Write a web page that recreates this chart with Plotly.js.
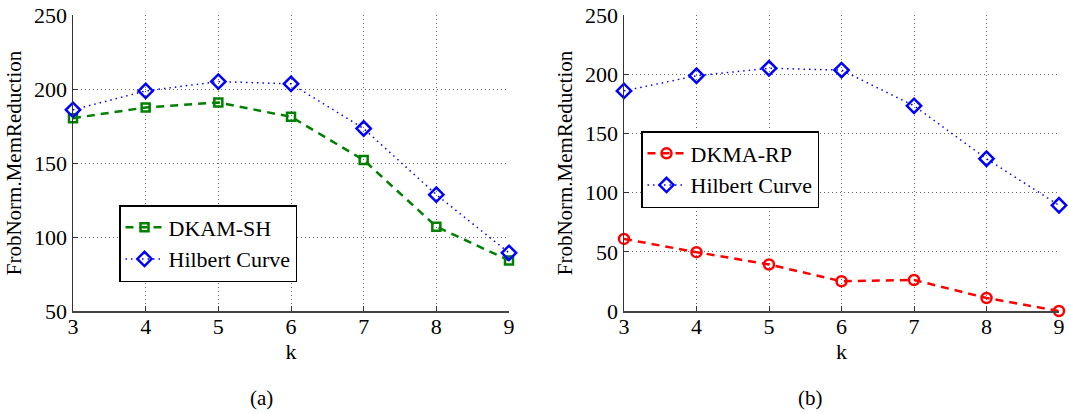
<!DOCTYPE html>
<html>
<head>
<meta charset="utf-8">
<script src="https://cdn.plot.ly/plotly-3.0.1.min.js"></script>
<style>
html,body{margin:0;padding:0;background:#fff;}
#chart{width:1069px;height:414px;}
</style>
</head>
<body>
<div id="chart"></div>
<script>
var kValues = [3, 4, 5, 6, 7, 8, 9];
var dkamSH = [180.3, 187.5, 190.9, 181.2, 152.0, 107.0, 84.2];
var hilbertCurve = [185.9, 198.7, 205.0, 203.5, 173.3, 128.6, 89.3];
var dkmaRP = [60.9, 49.7, 39.3, 25.1, 26.2, 11.0, 0.0];
var yTicksLeft = [50, 100, 150, 200, 250];
var yTicksRight = [0, 50, 100, 150, 200, 250];
var xTicks = [3, 4, 5, 6, 7, 8, 9];
var yTitle = 'FrobNorm.MemReduction';
var xTitle = 'k';
var panelLabels = ['(a)', '(b)'];

var FONT = 'Liberation Serif';

var traces = [
  {x: kValues, y: dkamSH, name: 'DKAM-SH', xaxis: 'x', yaxis: 'y', legend: 'legend', cliponaxis: false,
   mode: 'lines+markers', line: {color: '#008000', width: 2.5, dash: '8px,6px'},
   marker: {symbol: 'square-open', size: 8, color: '#008000', line: {width: 2.5, color: '#008000'}}},
  {x: kValues, y: hilbertCurve, name: 'Hilbert Curve', xaxis: 'x', yaxis: 'y', legend: 'legend', cliponaxis: false,
   mode: 'lines+markers', line: {color: '#0000ff', width: 1.5, dash: '1.5px,4px'},
   marker: {symbol: 'diamond-open', size: 11, color: '#0000ff', line: {width: 2.5, color: '#0000ff'}}},
  {x: kValues, y: dkmaRP, name: 'DKMA-RP', xaxis: 'x2', yaxis: 'y2', legend: 'legend2', cliponaxis: false,
   mode: 'lines+markers', line: {color: '#ff0000', width: 2.5, dash: '8px,6px'},
   marker: {symbol: 'circle-open', size: 10, color: '#ff0000', line: {width: 2.5, color: '#ff0000'}}},
  {x: kValues, y: hilbertCurve, name: 'Hilbert Curve', xaxis: 'x2', yaxis: 'y2', legend: 'legend2', cliponaxis: false,
   mode: 'lines+markers', line: {color: '#0000ff', width: 1.5, dash: '1.5px,4px'},
   marker: {symbol: 'diamond-open', size: 11, color: '#0000ff', line: {width: 2.5, color: '#0000ff'}}}
];

function xAxis(domain, anchor) {
  return {
    domain: domain, anchor: anchor, range: [3, 9], tickvals: xTicks,
    showline: true, linecolor: '#444', linewidth: 1.5,
    ticks: 'inside', ticklen: 5, tickcolor: '#333',
    showgrid: true, gridcolor: '#666', griddash: '1px,3px', gridwidth: 1,
    zeroline: false, automargin: false, ticklabelstandoff: -5,
    tickfont: {family: FONT, size: 22, color: '#000'},
    title: {text: xTitle, font: {family: FONT, size: 22, color: '#000'}, standoff: 0}
  };
}
function yAxis(domain, anchor, range, ticks) {
  return {
    domain: domain, anchor: anchor, range: range, tickvals: ticks,
    showline: true, linecolor: '#333', linewidth: 1.5,
    ticks: 'inside', ticklen: 5, tickcolor: '#333',
    showgrid: true, gridcolor: '#666', griddash: '1px,3px', gridwidth: 1,
    zeroline: false, automargin: false,
    tickfont: {family: FONT, size: 22, color: '#000'},
    title: {text: yTitle, font: {family: FONT, size: 21, color: '#000'}, standoff: 6}
  };
}

var yDom = [1 - 311 / 414, 1 - 15 / 414];
var layout = {
  width: 1069, height: 414,
  margin: {l: 0, r: 0, t: 0, b: 0},
  paper_bgcolor: '#fff', plot_bgcolor: '#fff',
  font: {family: FONT, color: '#000'},
  showlegend: true,
  xaxis: xAxis([73 / 1069, 509 / 1069], 'y'),
  yaxis: yAxis(yDom, 'x', [50, 250], yTicksLeft),
  xaxis2: xAxis([624 / 1069, 1059 / 1069], 'y2'),
  yaxis2: yAxis(yDom, 'x2', [0, 250], yTicksRight),
  legend: {x: 119 / 1069, y: 1 - 205 / 414, xanchor: 'left', yanchor: 'top',
           bgcolor: '#fff', bordercolor: '#000', borderwidth: 1.5, itemwidth: 38,
           font: {family: FONT, size: 22, color: '#000'}, tracegroupgap: 0},
  legend2: {x: 641 / 1069, y: 1 - 131 / 414, xanchor: 'left', yanchor: 'top',
            bgcolor: '#fff', bordercolor: '#000', borderwidth: 1.5, itemwidth: 38,
            font: {family: FONT, size: 22, color: '#000'}, tracegroupgap: 0},
  annotations: [
    {text: panelLabels[0], xref: 'paper', yref: 'paper', x: 261 / 1069, y: 1 - 398 / 414,
     xanchor: 'center', yanchor: 'middle',
     showarrow: false, font: {family: FONT, size: 21, color: '#000'}},
    {text: panelLabels[1], xref: 'paper', yref: 'paper', x: 810 / 1069, y: 1 - 398 / 414,
     xanchor: 'center', yanchor: 'middle',
     showarrow: false, font: {family: FONT, size: 21, color: '#000'}}
  ]
};

Plotly.newPlot('chart', traces, layout, {displayModeBar: false, staticPlot: true});
</script>
</body>
</html>
